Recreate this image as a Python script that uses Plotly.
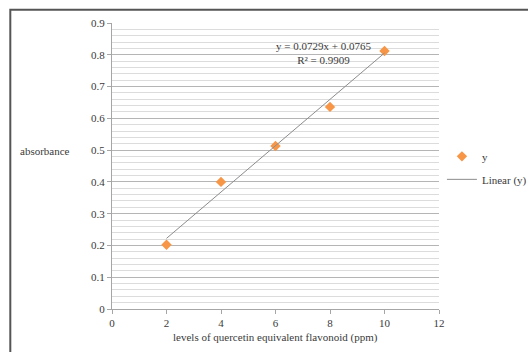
import plotly.graph_objects as go

conc_ppm = [2, 4, 6, 8, 10]
absorbance = [0.202, 0.400, 0.513, 0.636, 0.812]
trend_slope = 0.0729
trend_intercept = 0.0765
r_squared = 0.9909
x_ticks = [0, 2, 4, 6, 8, 10, 12]
y_ticks = [0, 0.1, 0.2, 0.3, 0.4, 0.5, 0.6, 0.7, 0.8, 0.9]
y_tick_labels = ["0", "0.1", "0.2", "0.3", "0.4", "0.5", "0.6", "0.7", "0.8", "0.9"]

FONT = "Liberation Serif, Times New Roman, serif"
TXT = "#3a3a3a"

trend_x = [min(conc_ppm), max(conc_ppm)]
trend_y = [trend_slope * v + trend_intercept for v in trend_x]

fig = go.Figure()
fig.add_trace(go.Scatter(
    x=conc_ppm, y=absorbance, mode="markers", name="y",
    marker=dict(symbol="diamond", size=8, color="#F79646"),
    legendgroup="a",
))
fig.add_trace(go.Scatter(
    x=trend_x, y=trend_y, mode="lines", name="Linear (y)",
    line=dict(color="#8c8c8c", width=1),
    legendgroup="b",
))

fig.update_layout(
    width=528, height=352,
    margin=dict(l=112, r=89, t=23, b=43, autoexpand=False),
    paper_bgcolor="white", plot_bgcolor="white",
    font=dict(family=FONT, size=10, color=TXT),
    showlegend=True,
    legend=dict(xref="container", yref="container", x=0.837, xanchor="left",
                y=0.597, yanchor="top",
                font=dict(family=FONT, size=11, color=TXT),
                tracegroupgap=4, traceorder="grouped", itemwidth=30,
                bgcolor="rgba(0,0,0,0)"),
    xaxis=dict(range=[0, 12], tickvals=x_ticks, showgrid=False, zeroline=False,
               showline=True, linecolor="#a6a6a6", linewidth=1,
               ticks="outside", ticklen=4, tickcolor="#a6a6a6", automargin=False,
               tickfont=dict(family=FONT, size=11, color=TXT)),
    yaxis=dict(range=[0, 0.9], tickvals=y_ticks, ticktext=y_tick_labels,
               showgrid=True, gridcolor="#b5b5b5", gridwidth=1,
               zeroline=False, showline=True, linecolor="#a6a6a6", linewidth=1,
               ticks="outside", ticklen=4, tickcolor="#a6a6a6", automargin=False,
               tickfont=dict(family=FONT, size=11, color=TXT),
               minor=dict(dtick=0.02, showgrid=True, gridcolor="#dcdcdc", gridwidth=1)),
    annotations=[
        dict(text="y = 0.0729x + 0.0765<br>R² = 0.9909", x=7.75, y=0.806,
             xref="x", yref="y", showarrow=False, align="center",
             font=dict(family=FONT, size=11, color=TXT)),
        dict(text="absorbance", x=-0.288, y=0.552, xref="paper", yref="paper",
             xanchor="left", yanchor="middle", showarrow=False,
             font=dict(family=FONT, size=11, color=TXT)),
        dict(text="levels of quercetin equivalent flavonoid (ppm)", x=0.5, y=-0.101,
             xref="paper", yref="paper", xanchor="center", yanchor="middle",
             showarrow=False, font=dict(family=FONT, size=11, color=TXT)),
    ],
    shapes=[
        dict(type="rect", xref="paper", yref="paper", x0=-0.311, x1=1.4, y0=-0.3, y1=1.046,
             line=dict(color="#555555", width=2), fillcolor="rgba(0,0,0,0)", layer="above"),
    ],
)

fig.write_html("out.html", config={"displayModeBar": False},
               post_script="document.body.style.margin='0';")
